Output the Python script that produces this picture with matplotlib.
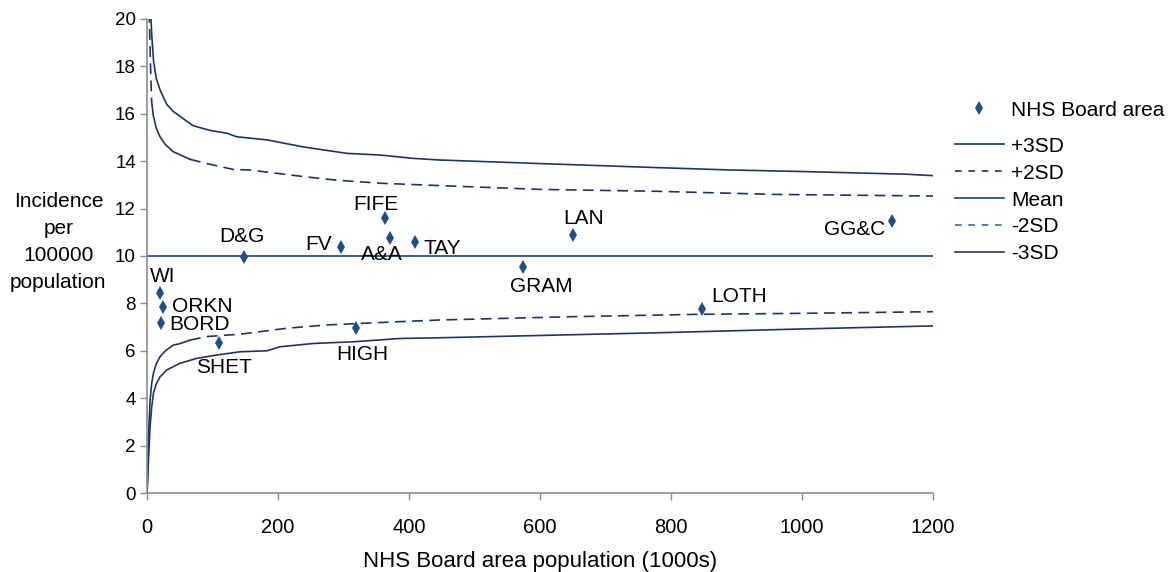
import matplotlib
matplotlib.use("Agg")
import matplotlib.pyplot as plt
from matplotlib.lines import Line2D

plt.rcParams['font.family'] = ['Liberation Sans', 'DejaVu Sans']

# NHS Board areas: population (1000s) and incidence per 100000
boards = ["WI", "ORKN", "BORD", "SHET", "D&G", "FV", "FIFE", "A&A", "TAY",
          "GRAM", "LAN", "HIGH", "LOTH", "GG&C"]
pop = [19.8, 24.9, 21.4, 110, 148.5, 296.7, 363, 371, 409, 574.6, 650, 318.6, 847, 1138]
rate = [8.43, 7.86, 7.19, 6.31, 9.94, 10.37, 11.59, 10.75, 10.6, 9.55, 10.89, 6.95, 7.75, 11.49]
# label offsets (pixels) and alignment for each board
label_dx = [-10, 9, 8, 5, -2, -10, -9, -8, 9, 18, 11, 7, 9, -7]
label_dy = [17, 0, -2, -24, 21, 3, 14, -16, -7, -20, 16, -26, 13, -9]
label_ha = ["left", "left", "left", "center", "center", "right", "center", "center",
            "left", "center", "center", "center", "left", "right"]

mean_rate = 10.0

# control limits
up3_x = [5.5, 7, 10, 14, 20, 30, 40, 50, 70, 96, 122, 137, 183, 239, 305, 356, 406,
         447, 600, 778, 890, 1007, 1160, 1200]
up3_y = [20.3, 19.4, 18.2, 17.5, 17.0, 16.4, 16.1, 15.9, 15.5, 15.3, 15.18, 15.03,
         14.9, 14.6, 14.33, 14.26, 14.12, 14.05, 13.9, 13.73, 13.63, 13.56, 13.45, 13.39]
up2_x = [3.3, 5, 7, 9.7, 14, 19.8, 28, 40, 65.6, 91, 132, 157, 239, 289, 356, 447, 600,
         778, 956, 1200]
up2_y = [20.3, 18.3, 16.5, 15.9, 15.4, 15.03, 14.7, 14.4, 14.08, 13.9, 13.65, 13.63,
         13.35, 13.2, 13.07, 12.97, 12.81, 12.73, 12.6, 12.53]
lo2_x = [0, 1, 2, 3, 4.6, 7, 9.7, 14, 19.8, 28, 40, 50, 65.6, 91, 142, 213, 274, 386,
         447, 650, 844, 997, 1200]
lo2_y = [0, 1.0, 1.95, 2.9, 3.9, 4.6, 5.05, 5.45, 5.75, 6.0, 6.24, 6.3, 6.45, 6.6, 6.7,
         6.95, 7.09, 7.23, 7.3, 7.44, 7.54, 7.58, 7.65]
lo3_x = [0, 2.5, 4.6, 7, 9.7, 14, 19.8, 30, 50, 75.6, 106, 142, 183, 203, 254, 315,
         386, 447, 778, 997, 1200]
lo3_y = [0, 1.6, 2.8, 3.6, 4.2, 4.6, 4.9, 5.19, 5.47, 5.68, 5.82, 5.96, 6.0, 6.17,
         6.31, 6.38, 6.52, 6.55, 6.76, 6.92, 7.05]

line_col = "#1d3566"
mark_col = "#1f4e8c"
dash = (0, (6.5, 3.8))

fig = plt.figure(figsize=(11.68, 5.72), dpi=100)
ax = fig.add_axes([0.1259, 0.1381, 0.6729, 0.8287])


def dashed_with_solid_bend(xs, ys, lo, hi):
    # the bend of the curve (lo..hi) is drawn solid, the rest dashed
    pts = list(zip(xs, ys))
    a = max(k for k, (x, _) in enumerate(pts) if x <= lo)
    b = max(k for k, (x, _) in enumerate(pts) if x <= hi)
    if a > 0:
        ax.plot(xs[:a + 1], ys[:a + 1], color=line_col, lw=1.2, linestyle=dash)
    ax.plot(xs[a:b + 1], ys[a:b + 1], color=line_col, lw=1.2)
    ax.plot(xs[b:], ys[b:], color=line_col, lw=1.2, linestyle=dash)


ax.plot(up3_x, up3_y, color=line_col, lw=1.2)
ax.plot(lo3_x, lo3_y, color=line_col, lw=1.2)
ax.plot([0, 1200], [mean_rate, mean_rate], color="#23508f", lw=1.3)
dashed_with_solid_bend(up2_x, up2_y, 7, 90)
dashed_with_solid_bend(lo2_x, lo2_y, 0, 90)

ax.plot(pop, rate, linestyle="none", marker="d", color=mark_col, markersize=7,
        markeredgewidth=0, zorder=5)
for name, x, y, ox, oy, ha in zip(boards, pop, rate, label_dx, label_dy, label_ha):
    ax.annotate(name, (x, y), xytext=(ox, oy), textcoords="offset pixels",
                ha=ha, va="center", fontsize=15)

ax.set_xlim(0, 1200)
ax.set_ylim(0, 20)
ax.set_xticks(range(0, 1201, 200))
ax.set_yticks(range(0, 21, 2))
for s in ["top", "right"]:
    ax.spines[s].set_visible(False)
for s in ["left", "bottom"]:
    ax.spines[s].set_color("#8c8c8c")
    ax.spines[s].set_linewidth(1.2)
ax.tick_params(colors="#8c8c8c", labelcolor="black", length=5, width=1)
ax.tick_params(axis="x", pad=13, labelsize=14.5)
ax.tick_params(axis="y", pad=3, labelsize=13.5)

ax.set_xlabel("NHS Board area population (1000s)", fontsize=16, labelpad=10)
fig.text(0.05, 0.577, "Incidence\nper\n100000\npopulation", ha="center", va="center",
         fontsize=15, linespacing=1.55)

h_pts = [Line2D([], [], linestyle="none", marker="d", color=mark_col, markersize=7,
                markeredgewidth=0)]
fig.legend(h_pts, ["NHS Board area"], loc="upper left",
           bbox_to_anchor=(0.8176, 0.824), bbox_transform=fig.transFigure,
           frameon=False, fontsize=15, handlelength=2.35, handletextpad=0.33,
           borderpad=0, borderaxespad=0)
h_lines = [Line2D([], [], color=line_col, lw=1.2),
           Line2D([], [], color=line_col, lw=1.2, linestyle=(0, (4, 4))),
           Line2D([], [], color="#23508f", lw=1.3),
           Line2D([], [], color="#3a6aa8", lw=1.2, linestyle=(0, (4, 4))),
           Line2D([], [], color=line_col, lw=1.2)]
fig.legend(h_lines, ["+3SD", "+2SD", "Mean", "-2SD", "-3SD"], loc="upper left",
           bbox_to_anchor=(0.8176, 0.761), bbox_transform=fig.transFigure,
           frameon=False, fontsize=15, handlelength=2.35, handletextpad=0.33,
           borderpad=0, borderaxespad=0, labelspacing=0.38)

fig.savefig("out.png", dpi=100)
